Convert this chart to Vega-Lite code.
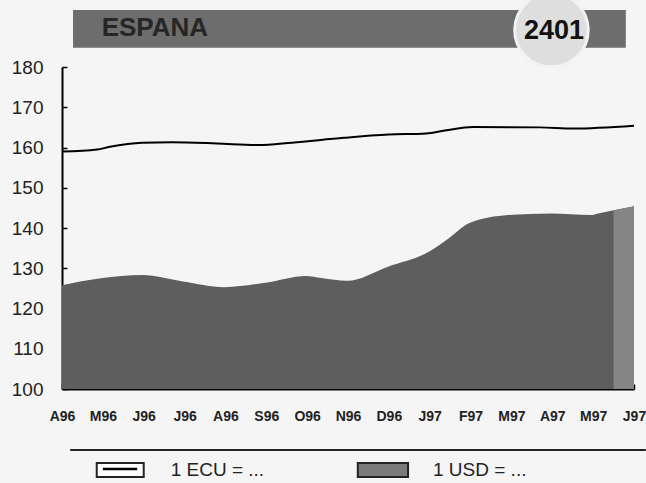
{
  "$schema": "https://vega.github.io/schema/vega-lite/v6.json",
  "background": "#f5f5f5",
  "padding": {"left": 11, "top": 0, "right": 0, "bottom": 0},
  "autosize": {"type": "pad"},
  "spacing": 0,
  "bounds": "flush",
  "config": {
    "view": {"stroke": null},
    "font": "Liberation Sans",
    "text": {"font": "Liberation Sans"}
  },
  "datasets": {
    "usd": [
      {"idx": 0, "val": 125.8},
      {"idx": 0.95, "val": 127.5},
      {"idx": 1.96, "val": 128.3},
      {"idx": 2.96, "val": 126.7},
      {"idx": 3.97, "val": 125.3},
      {"idx": 4.98, "val": 126.4},
      {"idx": 5.97, "val": 128.1},
      {"idx": 6.35, "val": 127.6},
      {"idx": 6.98, "val": 126.9},
      {"idx": 7.98, "val": 130.4},
      {"idx": 8.98, "val": 134.1},
      {"idx": 9.46, "val": 137.4},
      {"idx": 9.96, "val": 141.2},
      {"idx": 10.92, "val": 143.2},
      {"idx": 11.96, "val": 143.6},
      {"idx": 12.95, "val": 143.2},
      {"idx": 13.12, "val": 143.6},
      {"idx": 13.95, "val": 145.3},
      {"idx": 14, "val": 145.4}
    ],
    "usdlast": [
      {"idx": 13.5, "val": 144.4},
      {"idx": 13.95, "val": 145.3},
      {"idx": 14, "val": 145.4}
    ],
    "ecu": [
      {"idx": 0, "val": 159.0},
      {"idx": 0.86, "val": 159.5},
      {"idx": 1.14, "val": 160.1},
      {"idx": 1.96, "val": 161.2},
      {"idx": 2.69, "val": 161.3},
      {"idx": 3.79, "val": 161.0},
      {"idx": 4.8, "val": 160.6},
      {"idx": 5.63, "val": 161.2},
      {"idx": 6.9, "val": 162.4},
      {"idx": 8.0, "val": 163.2},
      {"idx": 8.91, "val": 163.5},
      {"idx": 9.37, "val": 164.2},
      {"idx": 10.06, "val": 165.1},
      {"idx": 11.7, "val": 165.0},
      {"idx": 12.51, "val": 164.7},
      {"idx": 14, "val": 165.4}
    ]
  },
  "vconcat": [
    {
      "width": 572,
      "height": 67,
      "encoding": {
        "x": {"field": "x", "type": "quantitative", "scale": {"domain": [0, 14], "nice": false, "zero": false}, "axis": null},
        "y": {"field": "y", "type": "quantitative", "scale": {"domain": [0, 10], "nice": false, "zero": false, "reverse": true}, "axis": null}
      },
      "layer": [
        {
          "data": {"values": [{"x": 0.27, "x2": 13.8, "y": 1.49, "y2": 7.12}]},
          "mark": {"type": "rect", "color": "#6d6d6d"},
          "encoding": {"x2": {"field": "x2"}, "y2": {"field": "y2"}}
        },
        {
          "data": {"values": [{"x": 11.98, "y": 4.48}]},
          "mark": {"type": "point", "shape": "circle", "filled": true, "size": 5411, "fill": "#dedede", "stroke": "#f2f2f2", "strokeWidth": 3, "opacity": 1, "clip": true}
        },
        {
          "data": {"values": [{"x": 0.97, "y": 4.18, "label": "ESPANA"}]},
          "mark": {"type": "text", "align": "left", "baseline": "middle", "fontSize": 26, "fontWeight": "bold", "color": "#262626", "font": "Liberation Sans"},
          "encoding": {"text": {"field": "label"}}
        },
        {
          "data": {"values": [{"x": 12.04, "y": 4.63, "label": "2401"}]},
          "mark": {"type": "text", "align": "center", "baseline": "middle", "fontSize": 27, "fontWeight": "bold", "color": "#111111", "font": "Liberation Sans"},
          "encoding": {"text": {"field": "label"}}
        }
      ]
    },
    {
      "width": 572,
      "height": 322,
      "layer": [
        {
          "data": {"name": "usd"},
          "mark": {"type": "area", "interpolate": "monotone", "color": "#5e5e5e", "opacity": 1},
          "encoding": {
            "x": {
              "field": "idx", "type": "quantitative",
              "scale": {"domain": [0, 14], "nice": false, "zero": false},
              "axis": {
                "title": null, "grid": false,
                "values": [0, 1, 2, 3, 4, 5, 6, 7, 8, 9, 10, 11, 12, 13, 14],
                "labelExpr": "['A96','M96','J96','J96','A96','S96','O96','N96','D96','J97','F97','M97','A97','M97','J97'][datum.value]",
                "labelFont": "Liberation Sans", "labelFontSize": 14, "labelFontWeight": "bold", "labelColor": "#222222",
                "labelFlush": false, "labelOverlap": false, "labelPadding": 25,
                "tickSize": -5, "tickColor": "#000000", "tickWidth": 1.5,
                "domainColor": "#000000", "domainWidth": 2
              }
            },
            "y": {
              "field": "val", "type": "quantitative",
              "scale": {"domain": [100, 180], "nice": false, "zero": false},
              "axis": {
                "title": null, "grid": false,
                "values": [100, 110, 120, 130, 140, 150, 160, 170, 180],
                "labelFont": "Liberation Sans", "labelFontSize": 19, "labelColor": "#222222",
                "labelFlush": false, "labelPadding": 24,
                "tickSize": -5, "tickColor": "#000000", "tickWidth": 1.5,
                "domainColor": "#000000", "domainWidth": 2
              }
            },
            "y2": {"datum": 100}
          }
        },
        {
          "data": {"name": "usdlast"},
          "mark": {"type": "area", "color": "#858585", "opacity": 1},
          "encoding": {
            "x": {"field": "idx", "type": "quantitative"},
            "y": {"field": "val", "type": "quantitative"},
            "y2": {"datum": 100}
          }
        },
        {
          "data": {"name": "ecu"},
          "mark": {"type": "line", "interpolate": "monotone", "color": "#000000", "strokeWidth": 2},
          "encoding": {
            "x": {"field": "idx", "type": "quantitative"},
            "y": {"field": "val", "type": "quantitative"}
          }
        }
      ]
    },
    {
      "width": 572,
      "height": 94,
      "encoding": {
        "x": {"field": "x", "type": "quantitative", "scale": {"domain": [0, 14], "nice": false, "zero": false}, "axis": null},
        "y": {"field": "y", "type": "quantitative", "scale": {"domain": [0, 10], "nice": false, "zero": false, "reverse": true}, "axis": null}
      },
      "layer": [
        {
          "data": {"values": [{"x": 0.2, "x2": 14.29, "y": 6.49}]},
          "mark": {"type": "rule", "color": "#222222", "strokeWidth": 2},
          "encoding": {"x2": {"field": "x2"}}
        },
        {
          "data": {"values": [
            {"series": "ECU", "x": 0.85, "x2": 2.0, "y": 7.87, "y2": 9.36},
            {"series": "USD", "x": 7.24, "x2": 8.47, "y": 7.87, "y2": 9.36}
          ]},
          "mark": {"type": "rect", "stroke": "#222222", "strokeWidth": 2},
          "encoding": {
            "x2": {"field": "x2"}, "y2": {"field": "y2"},
            "fill": {"field": "series", "type": "nominal", "scale": {"domain": ["ECU", "USD"], "range": ["#ffffff", "#7a7a7a"]}, "legend": null}
          }
        },
        {
          "data": {"values": [{"x": 1.0, "x2": 1.84, "y": 8.51}]},
          "mark": {"type": "rule", "color": "#000000", "strokeWidth": 2.5},
          "encoding": {"x2": {"field": "x2"}}
        },
        {
          "data": {"values": [
            {"x": 2.66, "y": 8.62, "label": "1 ECU = ..."},
            {"x": 9.08, "y": 8.62, "label": "1 USD = ..."}
          ]},
          "mark": {"type": "text", "align": "left", "baseline": "middle", "fontSize": 19, "color": "#222222", "font": "Liberation Sans"},
          "encoding": {"text": {"field": "label"}}
        }
      ]
    }
  ]
}
